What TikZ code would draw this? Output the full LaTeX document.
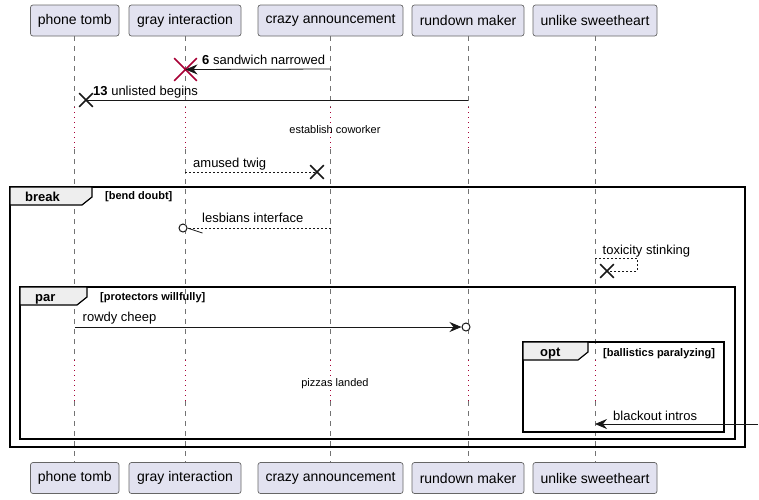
\documentclass[tikz,border=0pt]{standalone}
\usepackage{fontspec}
\setmainfont{Liberation Sans}
\usetikzlibrary{arrows.meta,shapes.misc}
\definecolor{pbox}{HTML}{E2E2F0}
\definecolor{dred}{HTML}{A80036}
\definecolor{tabfill}{HTML}{EEEEEE}
\definecolor{ink}{HTML}{181818}
\tikzset{
  part/.style={draw=black!60, fill=pbox, rounded corners=2.5pt, line width=0.7pt,
    minimum height=31pt, inner sep=0pt, font=\fontsize{14}{16}\selectfont},
  life/.style={draw=black!55, dash pattern=on 5pt off 5pt, line width=0.6pt},
  delayl/.style={draw=dred, dash pattern=on 1pt off 4pt, line width=1pt},
  msgline/.style={draw=ink, line width=0.8pt},
  msg/.style={msgline, -{Stealth[length=12pt,width=10pt,inset=4pt]}},
  dmsg/.style={msgline, dash pattern=on 2pt off 2pt},
  lbl/.style={anchor=base west, inner sep=0pt, text=black, font=\fontsize{13}{15}\selectfont},
  dlbl/.style={anchor=base, inner sep=0pt, font=\fontsize{11}{13}\selectfont},
  cond/.style={anchor=base west, inner sep=0pt, font=\fontsize{11}{13}\selectfont\bfseries},
  kind/.style={anchor=base west, inner sep=0pt, font=\fontsize{13}{15}\selectfont\bfseries},
  frame/.style={draw=black, line width=1.5pt},
  tab/.style={draw=black, line width=1.2pt, fill=tabfill},
  xk/.style={draw=ink, cross out, inner sep=0pt, minimum size=12pt, line width=1.6pt},
  xr/.style={draw=dred, cross out, inner sep=0pt, minimum size=21pt, line width=1.6pt},
  ring/.style={draw=ink, circle, inner sep=0pt, minimum size=8pt, line width=1pt, fill=white},
}
\begin{document}
\begin{tikzpicture}[x=1pt,y=-1pt]
\useasboundingbox[fill=white] (0,0) rectangle (759,499);

% participants
\foreach \n/\t/\c/\w in {1/phone tomb/74.75/88.5, 2/gray interaction/185/112,
    3/crazy announcement/330.5/145, 4/rundown maker/468/112, 5/unlike sweetheart/595/124}{
  \node[part, minimum width=\w pt] (p\n t) at (\c,20.5) {\t};
  \node[part, minimum width=\w pt] (p\n b) at (\c,478) {\t};
}
% lifelines
\foreach \n in {1,...,5}{
  \draw[life] (p\n t.south) -- (p\n t.south |- 0,107);
  \draw[delayl] (p\n t.south |- 0,107) -- (p\n t.south |- 0,149);
  \draw[life] (p\n t.south |- 0,149) -- (p\n t.south |- 0,360);
  \draw[delayl] (p\n t.south |- 0,360) -- (p\n t.south |- 0,401);
  \draw[life] (p\n t.south |- 0,401) -- (p\n b.north);
}

% message 6
\node[xr] (x6) at (185.5,69.5) {};
\draw[msg] (p3t.south |- 0,69) -- (x6.center);
\node[lbl] at (202,64.5) {\textbf{6} sandwich narrowed};

% message 13
\node[xk] (x13) at (86,100) {};
\draw[msgline] (p4t.south |- 0,100) -- (x13.center);
\node[lbl] at (93,95) {\textbf{13} unlisted begins};

% delay
\node[dlbl] at (335,133.5) {establish coworker};

% amused twig
\node[xk] (xtw) at (317,172) {};
\draw[dmsg] (p2t.south |- 0,172) -- (xtw.center);
\node[lbl] at (193,167) {amused twig};

% break frame
\draw[frame] (10,187) rectangle (745,447);
\draw[tab] (10,187) -- (92,187) -- (92,197) -- (82,205) -- (10,205) -- cycle;
\node[kind] at (25,201.5) {break};
\node[cond] at (105,199.5) {[bend doubt]};

% lesbians interface
\node[ring] (c1) at (183,228) {};
\draw[dmsg] (p3t.south |- 0,228) -- (c1.east);
\draw[msgline] (c1.east) -- ++(15,5);
\node[lbl] at (202,222.5) {lesbians interface};

% toxicity stinking
\node[xk] (xtox) at (607,271) {};
\draw[dmsg] (p5t.south |- 0,258) -- (637,258) -- (637,271) -- (xtox.center);
\node[lbl] at (602.5,254) {toxicity stinking};

% par frame
\draw[frame] (20,287) rectangle (735,439);
\draw[tab] (20,287) -- (87,287) -- (87,297) -- (77,305) -- (20,305) -- cycle;
\node[kind] at (35,301.5) {par};
\node[cond] at (100,300) {[protectors willfully]};

% rowdy cheep
\node[ring] (c2) at (466,327) {};
\draw[msg] (p1t.south |- 0,327) -- (c2.west);
\node[lbl] at (82.5,321.5) {rowdy cheep};

% delay 2
\node[dlbl] at (335,386) {pizzas landed};

% opt frame
\draw[frame] (523,342) rectangle (724,432);
\draw[tab] (523,342) -- (588,342) -- (588,352) -- (578,360) -- (523,360) -- cycle;
\node[kind] at (540,356.5) {opt};
\node[cond] at (603,356) {[ballistics paralyzing]};

% blackout intros
\coordinate (edge) at (758,424);
\draw[msg] (edge) -- (p5t.south |- 0,424);
\node[lbl] at (613,420) {blackout intros};
\end{tikzpicture}
\end{document}
